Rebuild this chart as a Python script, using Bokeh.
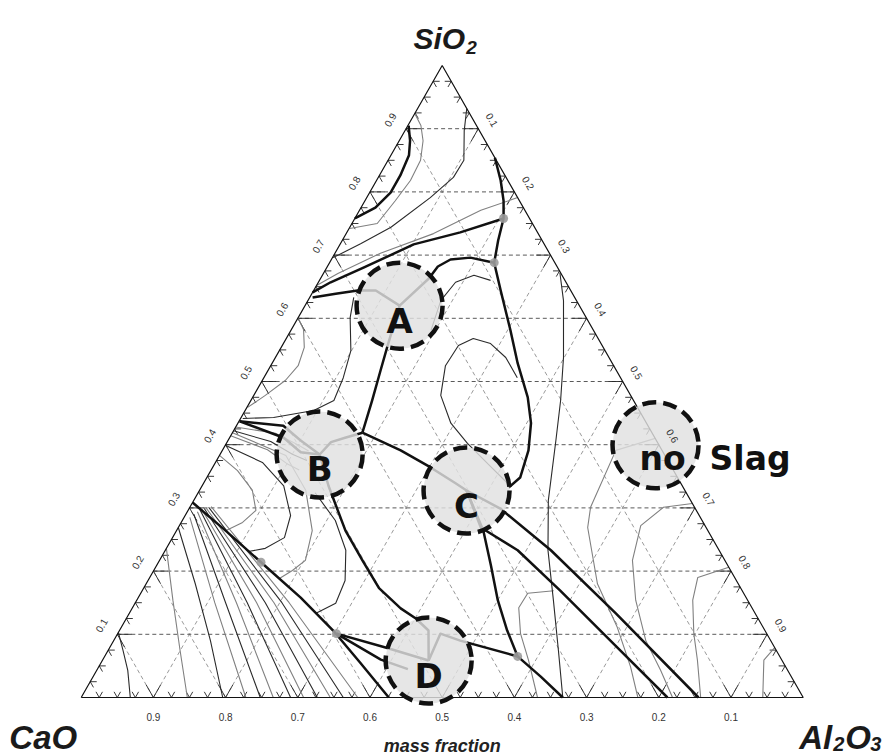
import numpy as np
from bokeh.plotting import figure
from bokeh.models import Range1d
from bokeh.embed import file_html
from bokeh.resources import INLINE
from bokeh.core.properties import value

# ---------------- data: compositions as (SiO2, Al2O3) mass fractions ----------------
# thick phase-boundary lines
t_arc = [(0.905, 0.001), (0.881, 0.015), (0.858, 0.025), (0.826, 0.029), (0.799, 0.029), (0.775, 0.020), (0.758, 0.000)]
t_upper = [(0.758, 0.206), (0.736, 0.157), (0.717, 0.102), (0.680, 0.051), (0.657, 0.017), (0.641, 0.000)]
t_right = [(0.854, 0.146), (0.818, 0.172), (0.786, 0.192), (0.758, 0.206), (0.723, 0.216), (0.688, 0.228), (0.644, 0.259),
           (0.581, 0.304), (0.529, 0.340), (0.475, 0.381), (0.434, 0.406), (0.391, 0.424), (0.348, 0.434), (0.332, 0.426)]
t_to_a = [(0.688, 0.228), (0.696, 0.191), (0.693, 0.165), (0.682, 0.153), (0.663, 0.150), (0.620, 0.131)]
t_left_a = [(0.633, 0.004), (0.639, 0.033), (0.644, 0.061), (0.644, 0.086), (0.620, 0.131)]
t_a_j = [(0.620, 0.131), (0.557, 0.146), (0.517, 0.156), (0.470, 0.168), (0.419, 0.180)]
t_j_c = [(0.419, 0.180), (0.391, 0.247), (0.364, 0.302), (0.339, 0.349), (0.3275, 0.370)]
t_j_b = [(0.419, 0.180), (0.411, 0.160), (0.404, 0.144), (0.3845, 0.138)]
t_edge_b1 = [(0.437, 0.001), (0.430, 0.065), (0.407, 0.100), (0.3845, 0.138)]
t_edge_b2 = [(0.437, 0.001), (0.411, 0.075), (0.388, 0.110), (0.3845, 0.138)]
t_b_d = [(0.3845, 0.138), (0.335, 0.175), (0.264, 0.234), (0.217, 0.281), (0.173, 0.326), (0.141, 0.372), (0.125, 0.401),
         (0.106, 0.428), (0.0585, 0.452)]
t_diag = [(0.3085, 0.000), (0.264, 0.068), (0.214, 0.142), (0.158, 0.225), (0.106, 0.296), (0.055, 0.359), (0.000, 0.426)]
t_dot_d1 = [(0.101, 0.303), (0.079, 0.382), (0.0585, 0.452)]
t_dot_d2 = [(0.101, 0.303), (0.060, 0.385), (0.045, 0.430)]
t_c_a = [(0.3275, 0.370), (0.269, 0.419), (0.233, 0.488), (0.169, 0.579), (0.085, 0.695), (0.000, 0.812)]
t_c_b = [(0.3275, 0.370), (0.299, 0.431), (0.233, 0.534), (0.133, 0.674), (0.000, 0.855)]
t_c_v = [(0.3275, 0.370), (0.264, 0.425), (0.209, 0.463), (0.154, 0.500), (0.106, 0.537), (0.065, 0.572)]
t_v_bottom = [(0.065, 0.572), (0.033, 0.620), (0.000, 0.667)]
t_v_d = [(0.065, 0.572), (0.090, 0.480), (0.101, 0.447), (0.0585, 0.452)]

# thin isotherm lines
c_top1 = [(0.924, 0.000), (0.905, 0.018), (0.881, 0.033), (0.850, 0.045), (0.818, 0.047), (0.786, 0.042), (0.750, 0.035), (0.742, 0.001)]
c_top2 = [(0.932, 0.068), (0.897, 0.082), (0.850, 0.105), (0.823, 0.104), (0.791, 0.088), (0.744, 0.057), (0.718, 0.028), (0.696, 0.001)]
c_top3 = [(0.791, 0.209), (0.771, 0.168), (0.734, 0.121), (0.703, 0.063), (0.671, 0.020), (0.652, 0.000)]
c_vert = [(0.672, 0.327), (0.628, 0.354), (0.538, 0.399), (0.470, 0.429), (0.407, 0.454), (0.312, 0.491), (0.233, 0.530),
          (0.154, 0.577), (0.074, 0.624), (0.000, 0.667)]
c_oval = [(0.339, 0.421), (0.370, 0.378), (0.402, 0.334), (0.434, 0.295), (0.478, 0.259), (0.525, 0.242), (0.557, 0.244),
          (0.568, 0.259), (0.560, 0.287), (0.538, 0.319), (0.506, 0.351)]
c_hook = [(0.581, 0.194), (0.628, 0.184), (0.657, 0.190), (0.668, 0.210), (0.660, 0.237)]
c_bulge = [(0.601, 0.000), (0.582, 0.017), (0.554, 0.032), (0.525, 0.038), (0.502, 0.032), (0.478, 0.016), (0.459, 0.001)]
c_a_down = [(0.633, 0.061), (0.601, 0.072), (0.549, 0.099), (0.506, 0.110), (0.470, 0.115), (0.454, 0.095), (0.443, 0.045), (0.4415, 0.003)]
b_fan1 = [(0.428, 0.000), (0.418, 0.060), (0.400, 0.100), (0.390, 0.120)]
b_fan2 = [(0.422, 0.000), (0.405, 0.060), (0.385, 0.100), (0.375, 0.125)]
b_fan3 = [(0.414, 0.000), (0.392, 0.062), (0.370, 0.100), (0.360, 0.122)]
arc1 = [(0.383, 0.000), (0.359, 0.037), (0.328, 0.073), (0.296, 0.094), (0.277, 0.085), (0.264, 0.068)]
arc2 = [(0.399, 0.000), (0.372, 0.065), (0.335, 0.113), (0.288, 0.146), (0.253, 0.155), (0.236, 0.137), (0.231, 0.116)]
arc3 = [(0.419, 0.000), (0.383, 0.092), (0.328, 0.147), (0.264, 0.188), (0.217, 0.202), (0.201, 0.192), (0.188, 0.180)]
arc4 = [(0.324, 0.162), (0.280, 0.212), (0.233, 0.250), (0.185, 0.273), (0.149, 0.278), (0.133, 0.258)]
ll1 = [(0.103, 0.000), (0.074, 0.021), (0.043, 0.043), (0.000, 0.068)]
ll2 = [(0.236, 0.000), (0.154, 0.050), (0.074, 0.100), (0.000, 0.147)]
ll3 = [(0.269, 0.000), (0.180, 0.068), (0.090, 0.134), (0.000, 0.196)]
fan1 = [(0.285, 0.008), (0.150, 0.110), (0.000, 0.228)]
fan2 = [(0.290, 0.011), (0.150, 0.125), (0.000, 0.248)]
fan3 = [(0.294, 0.014), (0.150, 0.140), (0.000, 0.266)]
fan4 = [(0.297, 0.016), (0.150, 0.155), (0.000, 0.290)]
fan5 = [(0.298, 0.018), (0.150, 0.168), (0.000, 0.308)]
fan6 = [(0.299, 0.021), (0.150, 0.180), (0.000, 0.327)]
fan7 = [(0.300, 0.023), (0.150, 0.192), (0.000, 0.345)]
fan8 = [(0.301, 0.026), (0.150, 0.203), (0.000, 0.363)]
fan9 = [(0.302, 0.029), (0.150, 0.213), (0.000, 0.383)]
r_u1 = [(0.169, 0.570), (0.165, 0.536), (0.142, 0.535), (0.101, 0.558), (0.059, 0.590), (0.000, 0.632)]
r_u2 = [(0.307, 0.693), (0.301, 0.656), (0.272, 0.639), (0.217, 0.655), (0.154, 0.691), (0.090, 0.737), (0.043, 0.781), (0.000, 0.819)]
r_u3 = [(0.206, 0.794), (0.190, 0.759), (0.154, 0.770), (0.101, 0.798), (0.059, 0.824), (0.000, 0.858)]
r_u4 = [(0.079, 0.921), (0.059, 0.916), (0.000, 0.944)]
r_no = [(0.410, 0.590), (0.391, 0.545), (0.301, 0.555), (0.269, 0.567), (0.180, 0.625), (0.111, 0.687), (0.048, 0.737), (0.000, 0.771)]

# invariant points (grey dots)
dot_si = [0.758, 0.688, 0.214, 0.101, 0.065]
dot_al = [0.206, 0.228, 0.142, 0.303, 0.572]

# marked slag compositions
mark_labels = ["A", "B", "C", "D", "no"]
mark_si = [0.620, 0.3845, 0.3275, 0.0585, 0.399]
mark_al = [0.131, 0.138, 0.370, 0.452, 0.596]

# axis tick labels
tick_vals = [0.1, 0.2, 0.3, 0.4, 0.5, 0.6, 0.7, 0.8, 0.9]
bottom_labels = ["0.9", "0.8", "0.7", "0.6", "0.5", "0.4", "0.3", "0.2", "0.1"]
side_labels = ["0.1", "0.2", "0.3", "0.4", "0.5", "0.6", "0.7", "0.8", "0.9"]


def cart(pts):
    si = np.array([p[0] for p in pts], dtype=float)
    al = np.array([p[1] for p in pts], dtype=float)
    return list(al + si / 2.0), list(si)


def cxy(si, al):
    si = np.asarray(si, dtype=float)
    al = np.asarray(al, dtype=float)
    return list(al + si / 2.0), list(si)


p = figure(width=882, height=755, x_range=Range1d(-0.11177, 1.10983), y_range=Range1d(-0.09177, 1.10285),
           x_axis_type=None, y_axis_type=None, toolbar_location=None, output_backend="svg",
           min_border=0, outline_line_color=None, background_fill_color="white", border_fill_color="white")
p.grid.visible = False

# grid
hx, hy, dx, dy = [], [], [], []
for t in tick_vals:
    a = cxy([t, t], [0.0, 1.0 - t]); hx.append(a[0]); hy.append(a[1])
    b = cxy([0.0, 1.0 - t], [t, t]); dx.append(b[0]); dy.append(b[1])
    c = cxy([0.0, 1.0 - t], [1.0 - t, 0.0]); dx.append(c[0]); dy.append(c[1])
p.multi_line(dx, dy, line_color="#9a9a9a", line_width=1, line_dash="4 3")
p.multi_line(hx, hy, line_color="#5a5a5a", line_width=1, line_dash="4 3")

# ticks
kx, ky = [], []
for k in range(1, 40):
    t = k / 40.0
    L = 0.02 if k % 4 == 0 else 0.009
    kx += [[t, t + 0.5 * L], [t, t - 0.5 * L]]; ky += [[0, L], [0, L]]
    x0, y0 = t / 2.0, t
    kx += [[x0, x0 + L], [x0, x0 + 0.5 * L]]; ky += [[y0, y0], [y0, y0 - L]]
    x1, y1 = 1 - t / 2.0, t
    kx += [[x1, x1 - L], [x1, x1 - 0.5 * L]]; ky += [[y1, y1], [y1, y1 - L]]
p.multi_line(kx, ky, line_color="#222222", line_width=0.9)

# thin lines
gray_lines = [c_top1, c_top3, c_bulge, arc1, arc3, fan1, fan3, fan5, fan7, fan9, r_u1, r_u2, r_u3, r_u4, r_no, ll2,
              b_fan1, b_fan3]
dark_lines = [c_top2, c_vert, c_hook, c_oval, c_a_down, arc2, arc4, ll1, ll3, fan2, fan4, fan6, fan8, b_fan2]
gx = [cart(c)[0] for c in gray_lines]; gy = [cart(c)[1] for c in gray_lines]
p.multi_line(gx, gy, line_color="#808080", line_width=1.1)
bx = [cart(c)[0] for c in dark_lines]; by = [cart(c)[1] for c in dark_lines]
p.multi_line(bx, by, line_color="#2a2a2a", line_width=1.1)

# thick boundaries
thick = [t_arc, t_upper, t_right, t_to_a, t_left_a, t_a_j, t_j_c, t_j_b, t_edge_b1, t_edge_b2, t_b_d, t_diag,
         t_dot_d1, t_dot_d2, t_c_a, t_c_b, t_c_v, t_v_bottom, t_v_d]
tx = [cart(c)[0] for c in thick]; ty = [cart(c)[1] for c in thick]
p.multi_line(tx, ty, line_color="#111111", line_width=2.5, line_join="round")

# dots
ddx, ddy = cxy(dot_si, dot_al)
p.scatter(ddx, ddy, size=9, marker="circle", fill_color="#9c9c9c", line_color=None, fill_alpha=0.9)

# triangle
p.line([0, 1, 0.5, 0], [0, 0, 1, 0], line_color="#111111", line_width=1.2)

# marks
mx, my = cxy(mark_si, mark_al)
p.scatter(mx, my, size=86, marker="circle", fill_color="#e1e1e1", fill_alpha=0.82,
          line_color="#111111", line_width=4.5, line_dash="14 7")
p.text(mx[:4], my[:4], text=mark_labels[:4], text_font=value("DejaVu Sans"), text_font_style="bold",
       text_font_size="34px", text_align="center", text_baseline="alphabetic", y_offset=15, text_color="#111111")
p.text([mx[4]], [my[4]], text=[mark_labels[4]], text_font=value("DejaVu Sans"), text_font_style="bold",
       text_font_size="33px", text_align="center", text_baseline="alphabetic", x_offset=7, y_offset=13, text_color="#111111")
p.text([mx[4]], [my[4]], text=["Slag"], text_font=value("DejaVu Sans"), text_font_style="bold",
       text_font_size="33px", text_align="left", text_baseline="alphabetic", x_offset=54, y_offset=13, text_color="#111111")

# tick labels
bx0, by0 = cxy([0.0] * 9, tick_vals)
p.text(bx0, by0, text=bottom_labels, text_font=value("Liberation Sans"), text_font_size="10px",
       text_align="center", text_baseline="middle", y_offset=19, text_color="#333333")
lx0, ly0 = cxy(tick_vals, [0.0] * 9)
p.text(lx0, ly0, text=side_labels, text_font=value("Liberation Sans"), text_font_size="10px",
       text_align="center", text_baseline="middle", x_offset=-16, y_offset=-9, angle=np.pi / 3, text_color="#333333")
rx0, ry0 = cxy([1 - v for v in tick_vals], tick_vals)
p.text(rx0, ry0, text=side_labels, text_font=value("Liberation Sans"), text_font_size="10px",
       text_align="center", text_baseline="middle", x_offset=14, y_offset=-9, angle=-np.pi / 3, text_color="#333333")

# component labels
F = value("Liberation Sans")
p.text([0.5], [1.0], text=["SiO"], text_font=F, text_font_style="bold italic", text_font_size="30px",
       text_align="right", text_baseline="alphabetic", x_offset=23, y_offset=-27, text_color="#1a1a1a")
p.text([0.5], [1.0], text=["2"], text_font=F, text_font_style="bold italic", text_font_size="19px",
       text_align="left", text_baseline="alphabetic", x_offset=24, y_offset=-18, text_color="#1a1a1a")
p.text([0.0], [0.0], text=["CaO"], text_font=F, text_font_style="bold italic", text_font_size="33px",
       text_align="right", text_baseline="alphabetic", x_offset=-4, y_offset=40, text_color="#1a1a1a")
p.text([1.0], [0.0], text=["Al"], text_font=F, text_font_style="bold italic", text_font_size="33px",
       text_align="left", text_baseline="alphabetic", x_offset=-4, y_offset=40, text_color="#1a1a1a")
p.text([1.0], [0.0], text=["2"], text_font=F, text_font_style="bold italic", text_font_size="20px",
       text_align="left", text_baseline="alphabetic", x_offset=30, y_offset=46, text_color="#1a1a1a")
p.text([1.0], [0.0], text=["O"], text_font=F, text_font_style="bold italic", text_font_size="33px",
       text_align="left", text_baseline="alphabetic", x_offset=42, y_offset=40, text_color="#1a1a1a")
p.text([1.0], [0.0], text=["3"], text_font=F, text_font_style="bold italic", text_font_size="20px",
       text_align="left", text_baseline="alphabetic", x_offset=67, y_offset=46, text_color="#1a1a1a")
p.text([0.5], [0.0], text=["mass fraction"], text_font=F, text_font_style="bold italic", text_font_size="18px",
       text_align="center", text_baseline="alphabetic", y_offset=48, text_color="#222222")

open("out.html", "w").write(file_html(p, INLINE))
